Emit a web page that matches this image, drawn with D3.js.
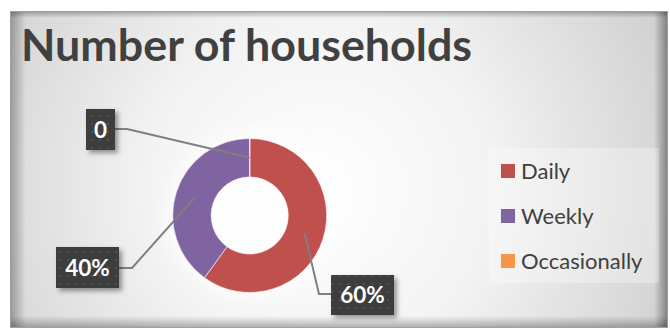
<!DOCTYPE html>
<html>
<head>
<meta charset="utf-8">
<script src="https://cdn.jsdelivr.net/npm/d3@7"></script>
<style>
  html, body { margin: 0; padding: 0; background: #fff; }
  svg { display: block; }
</style>
</head>
<body>
<div id="chart"></div>
<script>
// data
const categories = ["Daily", "Weekly", "Occasionally"]
const values = [60, 40, 0]
const labels = ["60%", "40%", "0"]
const colors = ["#C0504D", "#8064A2", "#F79646"]
const title = "Number of households"

const W = 670, H = 331
const cx = 249.7, cy = 215.5, rOuter = 77, rInner = 38.5

const svg = d3.select("#chart").append("svg")
    .attr("width", W).attr("height", H)

const defs = svg.append("defs")

// background gradient
let bg = defs.append("radialGradient").attr("id", "bg")
    .attr("gradientUnits", "userSpaceOnUse")
    .attr("cx", 320).attr("cy", 190).attr("r", 430)
bg.append("stop").attr("offset", "0%").attr("stop-color", "#ffffff")
bg.append("stop").attr("offset", "40%").attr("stop-color", "#f3f3f3")
bg.append("stop").attr("offset", "100%").attr("stop-color", "#c8c8c8")

// edge shades
function edgeGrad(id, x1, y1, x2, y2, op) {
    let g = defs.append("linearGradient").attr("id", id)
        .attr("x1", x1).attr("y1", y1).attr("x2", x2).attr("y2", y2)
    g.append("stop").attr("offset", "0%").attr("stop-color", "#000").attr("stop-opacity", op)
    g.append("stop").attr("offset", "100%").attr("stop-color", "#000").attr("stop-opacity", 0)
}
edgeGrad("eL", 0, 0, 1, 0, 0.3)
edgeGrad("eR", 1, 0, 0, 0, 0.4)
edgeGrad("eT", 0, 0, 0, 1, 0.3)
edgeGrad("eB", 0, 1, 0, 0, 0.3)

// dotted label pattern
let pat = defs.append("pattern").attr("id", "dots")
    .attr("patternUnits", "userSpaceOnUse").attr("width", 8).attr("height", 8)
pat.append("rect").attr("width", 8).attr("height", 8).attr("fill", "#3d3d3d")
pat.append("circle").attr("cx", 4).attr("cy", 4).attr("r", 1).attr("fill", "#575757")

let sh = defs.append("filter").attr("id", "shadow")
    .attr("x", "-30%").attr("y", "-30%").attr("width", "160%").attr("height", "160%")
sh.append("feDropShadow").attr("dx", 3).attr("dy", 3).attr("stdDeviation", 2.5)
    .attr("flood-color", "#000").attr("flood-opacity", 0.4)

let glow = defs.append("filter").attr("id", "glow")
    .attr("x", "-50%").attr("y", "-50%").attr("width", "200%").attr("height", "200%")
glow.append("feGaussianBlur").attr("stdDeviation", 10)

// frame
const fx = 10, fy = 11, fw = 658, fh = 317
svg.append("rect").attr("x", fx).attr("y", fy).attr("width", fw).attr("height", fh)
    .attr("fill", "url(#bg)")
svg.append("rect").attr("x", fx).attr("y", fy).attr("width", 16).attr("height", fh).attr("fill", "url(#eL)")
svg.append("rect").attr("x", fx + fw - 14).attr("y", fy).attr("width", 14).attr("height", fh).attr("fill", "url(#eR)")
svg.append("rect").attr("x", fx).attr("y", fy).attr("width", fw).attr("height", 7).attr("fill", "url(#eT)")
svg.append("rect").attr("x", fx).attr("y", fy + fh - 12).attr("width", fw).attr("height", 12).attr("fill", "url(#eB)")
svg.append("rect").attr("x", fx + 0.5).attr("y", fy + 0.5).attr("width", fw - 1).attr("height", fh - 1)
    .attr("fill", "none").attr("stroke", "#a0a0a0").attr("stroke-width", 1)

// title
svg.append("text")
    .attr("x", 21).attr("y", 61)
    .attr("font-family", "Lato, 'Open Sans', sans-serif")
    .attr("font-weight", "bold").attr("font-size", 44)
    .attr("fill", "#404040")
    .attr("textLength", 451).attr("lengthAdjust", "spacingAndGlyphs")
    .text(title)

// donut
const pie = d3.pie().sort(null).value(d => d)
const arcs = pie(values)
const arc = d3.arc().innerRadius(rInner).outerRadius(rOuter)

const g = svg.append("g").attr("transform", `translate(${cx},${cy})`)
g.append("circle").attr("r", rOuter + 6).attr("fill", "#ffffff").attr("opacity", 0.8)
    .attr("filter", "url(#glow)")
g.selectAll("path.slice")
    .data(arcs)
    .join("path")
    .attr("class", "slice")
    .attr("d", arc)
    .attr("fill", (d, i) => colors[i])
    .attr("stroke", "#ffffff").attr("stroke-width", 0.6)

// data labels (layout)
const labelBox = [
    { x: 331, y: 275, w: 63, h: 40, elbow: [319, 294], side: "left" },
    { x: 56, y: 247, w: 63, h: 41, elbow: [132, 268], side: "right" },
    { x: 86, y: 109, w: 29, h: 41, elbow: [127, 129], side: "right" }
]

arcs.forEach((d, i) => {
    const c = arc.centroid(d)
    const b = labelBox[i]
    const px = cx + c[0], py = cy + c[1]
    const endX = b.side === "left" ? b.x : b.x + b.w
    svg.append("polyline")
        .attr("points", [[px, py], b.elbow, [endX, b.elbow[1]]].map(p => p.join(",")).join(" "))
        .attr("fill", "none").attr("stroke", "#7f7f7f").attr("stroke-width", 2)
})

arcs.forEach((d, i) => {
    const b = labelBox[i]
    svg.append("rect").attr("x", b.x).attr("y", b.y).attr("width", b.w).attr("height", b.h)
        .attr("fill", "url(#dots)").attr("filter", "url(#shadow)")
    svg.append("text")
        .attr("x", b.x + b.w / 2).attr("y", b.y + b.h / 2 + 8)
        .attr("text-anchor", "middle")
        .attr("font-family", "Lato, 'Open Sans', sans-serif")
        .attr("font-weight", "bold").attr("font-size", 22.5)
        .attr("fill", "#ffffff")
        .text(labels[i])
})

// legend
const lg = svg.append("g")
lg.append("rect").attr("x", 489).attr("y", 148).attr("width", 170).attr("height", 135)
    .attr("fill", "#ffffff").attr("opacity", 0.3)
const ly = d3.scalePoint().domain(categories).range([171, 261])
categories.forEach((c, i) => {
    lg.append("rect").attr("x", 501).attr("y", ly(c) - 7).attr("width", 14).attr("height", 14)
        .attr("fill", colors[i])
    lg.append("text").attr("x", 521).attr("y", ly(c) + 7.5)
        .attr("font-family", "Lato, 'Open Sans', sans-serif")
        .attr("font-size", 22).attr("fill", "#404040")
        .text(c)
})
</script>
</body>
</html>
